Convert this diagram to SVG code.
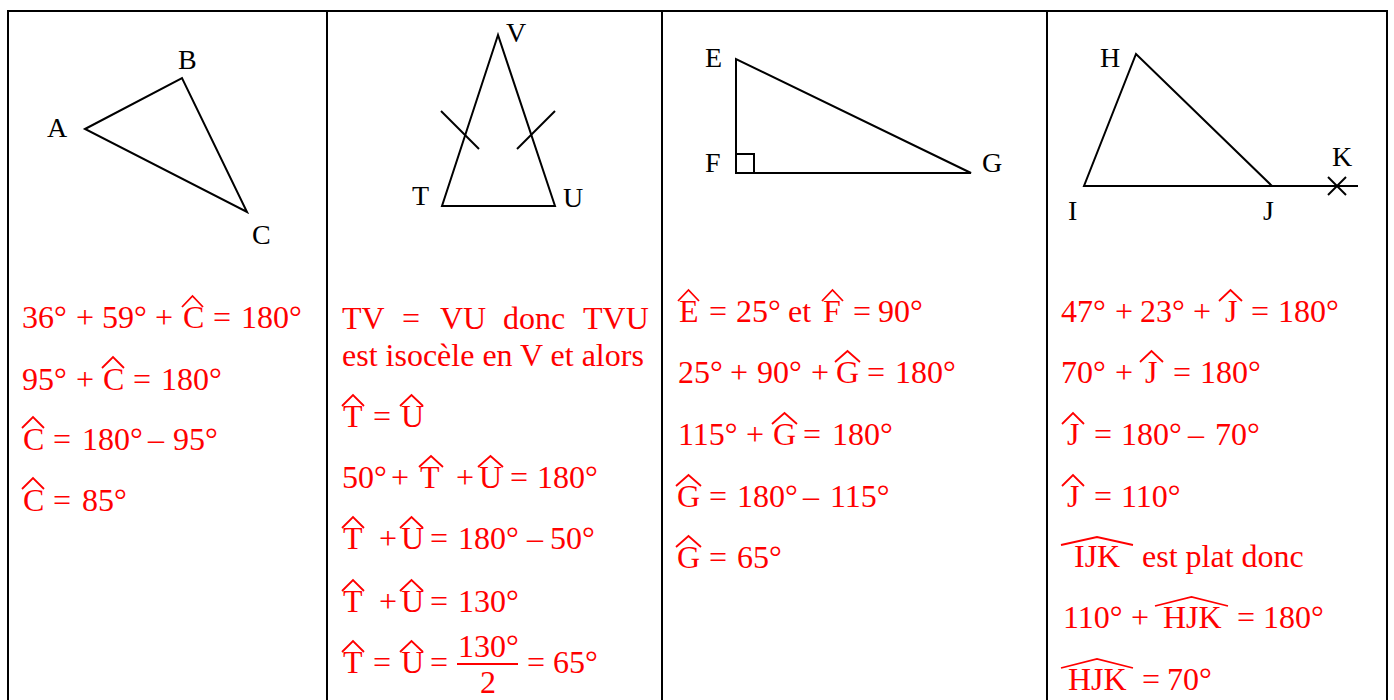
<svg xmlns="http://www.w3.org/2000/svg" width="1394" height="700" viewBox="0 0 1394 700">
<style>
.bg{fill:#fff}
.grid{stroke:#000;stroke-width:2;fill:none}
.fig{stroke:#000;stroke-width:2;fill:none;stroke-linejoin:miter}
.lbl{font-family:"Liberation Serif","Times New Roman",serif;font-size:28px;fill:#000}
.eq{font-family:"Liberation Serif","Times New Roman",serif;font-size:32px;fill:#f00}
.hat{stroke:#f00;stroke-width:1.8;fill:none;stroke-linejoin:miter}
.bar{stroke:#f00;stroke-width:2}
</style>
<rect class="bg" x="0" y="0" width="1394" height="700"/>
<g id="table" class="grid">
<line x1="7" y1="11" x2="1388" y2="11"/>
<line x1="8" y1="10" x2="8" y2="700"/>
<line x1="327" y1="10" x2="327" y2="700"/>
<line x1="662" y1="10" x2="662" y2="700"/>
<line x1="1047" y1="10" x2="1047" y2="700"/>
<line x1="1387" y1="10" x2="1387" y2="700"/>
</g>
<g id="connectors"></g>
<g id="fig-ABC">
<polygon class="fig" points="85,129 182,78 247,212"/>
<text class="lbl" x="47" y="137">A</text>
<text class="lbl" x="178" y="69">B</text>
<text class="lbl" x="252" y="244">C</text>
</g>
<g id="fig-TVU">
<polygon class="fig" points="498,35 442,206 555,206"/>
<line class="fig" x1="441" y1="111" x2="479" y2="149"/>
<line class="fig" x1="555" y1="111" x2="517" y2="149"/>
<text class="lbl" x="506" y="42">V</text>
<text class="lbl" x="412" y="205">T</text>
<text class="lbl" x="563" y="207">U</text>
</g>
<g id="fig-EFG">
<polygon class="fig" points="736,59 736,173 971,173"/>
<polyline class="fig" points="736,154 754,154 754,173"/>
<text class="lbl" x="705" y="67">E</text>
<text class="lbl" x="705" y="172">F</text>
<text class="lbl" x="982" y="172">G</text>
</g>
<g id="fig-HIJK">
<polyline class="fig" points="1272,186 1136,54 1084,186 1358,186"/>
<line class="fig" x1="1328" y1="177" x2="1346" y2="195"/>
<line class="fig" x1="1346" y1="177" x2="1328" y2="195"/>
<text class="lbl" x="1100" y="67">H</text>
<text class="lbl" x="1332" y="166">K</text>
<text class="lbl" x="1068" y="220">I</text>
<text class="lbl" x="1263" y="220">J</text>
</g>
<g id="calc-ABC">
<text class="eq" y="328"><tspan x="22">36°</tspan><tspan x="76">+</tspan><tspan x="102">59°</tspan><tspan x="155">+</tspan><tspan x="183">C</tspan><tspan x="213">=</tspan><tspan x="241">180°</tspan></text>
<path class="hat" d="M182,307 L192.5,296 L203,307"/>
<text class="eq" y="390"><tspan x="22">95°</tspan><tspan x="76">+</tspan><tspan x="103">C</tspan><tspan x="133">=</tspan><tspan x="161">180°</tspan></text>
<path class="hat" d="M102,368 L113,357 L124,368"/>
<text class="eq" y="450"><tspan x="23">C</tspan><tspan x="53">=</tspan><tspan x="82">180°</tspan><tspan x="148">–</tspan><tspan x="173">95°</tspan></text>
<path class="hat" d="M22,428 L33,417 L44,428"/>
<text class="eq" y="511"><tspan x="23">C</tspan><tspan x="53">=</tspan><tspan x="82">85°</tspan></text>
<path class="hat" d="M22,489 L33,478 L44,489"/>
</g>
<g id="calc-TVU">
<text class="eq" y="329"><tspan x="342">TV</tspan><tspan x="402">=</tspan><tspan x="440">VU</tspan><tspan x="503">donc</tspan><tspan x="583">TVU</tspan></text>
<text class="eq" x="342" y="366">est isocèle en V et alors</text>
<text class="eq" y="427"><tspan x="343">T</tspan><tspan x="373">=</tspan><tspan x="401">U</tspan></text>
<path class="hat" d="M342,406 L353,395 L364,406 M400,406 L411.5,395 L423,406"/>
<text class="eq" y="488"><tspan x="342">50°</tspan><tspan x="391">+</tspan><tspan x="420">T</tspan><tspan x="456">+</tspan><tspan x="479">U</tspan><tspan x="510">=</tspan><tspan x="537">180°</tspan></text>
<path class="hat" d="M419,467 L431,456 L443,467 M478,467 L490.5,456 L503,467"/>
<text class="eq" y="549"><tspan x="343">T</tspan><tspan x="379">+</tspan><tspan x="401">U</tspan><tspan x="430">=</tspan><tspan x="458">180°</tspan><tspan x="527">–</tspan><tspan x="550">50°</tspan></text>
<path class="hat" d="M342,528 L353,517 L364,528 M400,528 L411.5,517 L423,528"/>
<text class="eq" y="612"><tspan x="343">T</tspan><tspan x="379">+</tspan><tspan x="401">U</tspan><tspan x="430">=</tspan><tspan x="458">130°</tspan></text>
<path class="hat" d="M342,591 L353,580 L364,591 M400,591 L411.5,580 L423,591"/>
<text class="eq" y="673"><tspan x="343">T</tspan><tspan x="373">=</tspan><tspan x="401">U</tspan><tspan x="430">=</tspan><tspan x="527">=</tspan><tspan x="553">65°</tspan></text>
<path class="hat" d="M342,652 L353,641 L364,652 M400,652 L411.5,641 L423,652"/>
<text class="eq" x="458" y="657">130°</text>
<line class="bar" x1="457" y1="664" x2="518" y2="664"/>
<text class="eq" x="480" y="693">2</text>
</g>
<g id="calc-EFG">
<text class="eq" y="322"><tspan x="679">E</tspan><tspan x="709">=</tspan><tspan x="736">25°</tspan><tspan x="788">et</tspan><tspan x="823">F</tspan><tspan x="853">=</tspan><tspan x="878">90°</tspan></text>
<path class="hat" d="M678,301 L688.5,290 L699,301 M822,301 L832.5,290 L843,301"/>
<text class="eq" y="383"><tspan x="678">25°</tspan><tspan x="730">+</tspan><tspan x="757">90°</tspan><tspan x="811">+</tspan><tspan x="836">G</tspan><tspan x="867">=</tspan><tspan x="895">180°</tspan></text>
<path class="hat" d="M835,362 L847.5,351 L860,362"/>
<text class="eq" y="445"><tspan x="678">115°</tspan><tspan x="746">+</tspan><tspan x="773">G</tspan><tspan x="803">=</tspan><tspan x="832">180°</tspan></text>
<path class="hat" d="M772,424 L784.5,413 L797,424"/>
<text class="eq" y="507"><tspan x="677">G</tspan><tspan x="709">=</tspan><tspan x="737">180°</tspan><tspan x="803">–</tspan><tspan x="830">115°</tspan></text>
<path class="hat" d="M676,486 L688.5,475 L701,486"/>
<text class="eq" y="568"><tspan x="677">G</tspan><tspan x="709">=</tspan><tspan x="737">65°</tspan></text>
<path class="hat" d="M676,547 L688.5,536 L701,547"/>
</g>
<g id="calc-HIJK">
<text class="eq" y="322"><tspan x="1061">47°</tspan><tspan x="1115">+</tspan><tspan x="1140">23°</tspan><tspan x="1193">+</tspan><tspan x="1225">J</tspan><tspan x="1251">=</tspan><tspan x="1278">180°</tspan></text>
<path class="hat" d="M1219,301 L1230.5,290 L1242,301"/>
<text class="eq" y="383"><tspan x="1061">70°</tspan><tspan x="1115">+</tspan><tspan x="1145">J</tspan><tspan x="1173">=</tspan><tspan x="1200">180°</tspan></text>
<path class="hat" d="M1140,362 L1151.5,351 L1163,362"/>
<text class="eq" y="445"><tspan x="1067">J</tspan><tspan x="1094">=</tspan><tspan x="1121">180°</tspan><tspan x="1188">–</tspan><tspan x="1215">70°</tspan></text>
<path class="hat" d="M1062,424 L1073,413 L1084,424"/>
<text class="eq" y="507"><tspan x="1067">J</tspan><tspan x="1094">=</tspan><tspan x="1121">110°</tspan></text>
<path class="hat" d="M1062,486 L1073,475 L1084,486"/>
<text class="eq" y="567"><tspan x="1074">IJK</tspan><tspan x="1142">est plat donc</tspan></text>
<path class="hat" d="M1061,545 L1097,537 L1133,545"/>
<text class="eq" y="628"><tspan x="1063">110°</tspan><tspan x="1131">+</tspan><tspan x="1163">HJK</tspan><tspan x="1237">=</tspan><tspan x="1263">180°</tspan></text>
<path class="hat" d="M1155,606 L1191.5,597 L1228,606"/>
<text class="eq" y="690"><tspan x="1068">HJK</tspan><tspan x="1142">=</tspan><tspan x="1167">70°</tspan></text>
<path class="hat" d="M1061,668 L1097,659 L1133,668"/>
</g>
</svg>
